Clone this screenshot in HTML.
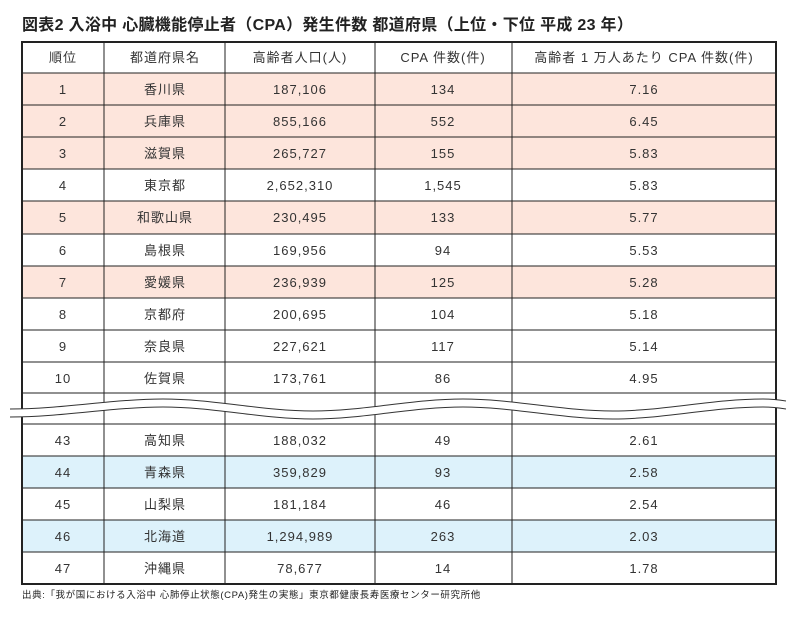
<!DOCTYPE html>
<html><head><meta charset="utf-8"><style>
body{margin:0;background:#fff;}
svg text{font-family:"Liberation Sans","Noto Sans CJK JP",sans-serif;fill:#333;}
</style></head><body>
<svg width="791" height="617" viewBox="0 0 791 617" xmlns="http://www.w3.org/2000/svg">
<text x="22" y="30" font-size="16" font-weight="bold" letter-spacing="0.3" style="fill:#222">図表2 入浴中 心臓機能停止者（CPA）発生件数 都道府県（上位・下位 平成 23 年）</text>
<g>
<rect x="22" y="73" width="754" height="32" fill="#fde5dc"/>
<rect x="22" y="105" width="754" height="32" fill="#fde5dc"/>
<rect x="22" y="137" width="754" height="32" fill="#fde5dc"/>
<rect x="22" y="201" width="754" height="33" fill="#fde5dc"/>
<rect x="22" y="266" width="754" height="32" fill="#fde5dc"/>
<rect x="22" y="456" width="754" height="32" fill="#ddf2fb"/>
<rect x="22" y="520" width="754" height="32" fill="#ddf2fb"/>
</g>
<g stroke="#222" stroke-width="1">
<line x1="22" y1="73" x2="776" y2="73"/>
<line x1="22" y1="105" x2="776" y2="105"/>
<line x1="22" y1="137" x2="776" y2="137"/>
<line x1="22" y1="169" x2="776" y2="169"/>
<line x1="22" y1="201" x2="776" y2="201"/>
<line x1="22" y1="234" x2="776" y2="234"/>
<line x1="22" y1="266" x2="776" y2="266"/>
<line x1="22" y1="298" x2="776" y2="298"/>
<line x1="22" y1="330" x2="776" y2="330"/>
<line x1="22" y1="362" x2="776" y2="362"/>
<line x1="22" y1="393" x2="776" y2="393"/>
<line x1="22" y1="424" x2="776" y2="424"/>
<line x1="22" y1="456" x2="776" y2="456"/>
<line x1="22" y1="488" x2="776" y2="488"/>
<line x1="22" y1="520" x2="776" y2="520"/>
<line x1="22" y1="552" x2="776" y2="552"/>
<line x1="104" y1="42" x2="104" y2="584"/>
<line x1="225" y1="42" x2="225" y2="584"/>
<line x1="375" y1="42" x2="375" y2="584"/>
<line x1="512" y1="42" x2="512" y2="584"/>
</g>
<rect x="22" y="42" width="754" height="542" fill="none" stroke="#222" stroke-width="2"/>
<path d="M10,409 C63,409 113,399 163,399 C213,399 263,411 313,411 C363,411 413,399 463,399 C513,399 563,411 613,411 C663,411 713,399 763,399 C773,399 780,400 786,401 L786,409 C780,408 773,407 763,407 C713,407 663,419 613,419 C563,419 513,407 463,407 C413,407 363,419 313,419 C263,419 213,407 163,407 C113,407 63,417 10,417 Z" fill="#fff"/>
<path d="M10,409 C63,409 113,399 163,399 C213,399 263,411 313,411 C363,411 413,399 463,399 C513,399 563,411 613,411 C663,411 713,399 763,399 C773,399 780,400 786,401" fill="none" stroke="#333" stroke-width="1"/>
<path d="M10,417 C63,417 113,407 163,407 C213,407 263,419 313,419 C363,419 413,407 463,407 C513,407 563,419 613,419 C663,419 713,407 763,407 C773,407 780,408 786,409" fill="none" stroke="#333" stroke-width="1"/>
<g font-size="13" text-anchor="middle" letter-spacing="1">
<text x="63" y="62">順位</text><text x="165" y="62">都道府県名</text><text x="300" y="62">高齢者人口(人)</text><text x="443" y="62">CPA 件数(件)</text><text x="644" y="62">高齢者 1 万人あたり CPA 件数(件)</text>
</g>
<g font-size="13" text-anchor="middle" letter-spacing="1">
<text x="63" y="94">1</text><text x="165" y="94">香川県</text><text x="300" y="94">187,106</text><text x="443" y="94">134</text><text x="644" y="94">7.16</text>
<text x="63" y="126">2</text><text x="165" y="126">兵庫県</text><text x="300" y="126">855,166</text><text x="443" y="126">552</text><text x="644" y="126">6.45</text>
<text x="63" y="158">3</text><text x="165" y="158">滋賀県</text><text x="300" y="158">265,727</text><text x="443" y="158">155</text><text x="644" y="158">5.83</text>
<text x="63" y="190">4</text><text x="165" y="190">東京都</text><text x="300" y="190">2,652,310</text><text x="443" y="190">1,545</text><text x="644" y="190">5.83</text>
<text x="63" y="222">5</text><text x="165" y="222">和歌山県</text><text x="300" y="222">230,495</text><text x="443" y="222">133</text><text x="644" y="222">5.77</text>
<text x="63" y="255">6</text><text x="165" y="255">島根県</text><text x="300" y="255">169,956</text><text x="443" y="255">94</text><text x="644" y="255">5.53</text>
<text x="63" y="287">7</text><text x="165" y="287">愛媛県</text><text x="300" y="287">236,939</text><text x="443" y="287">125</text><text x="644" y="287">5.28</text>
<text x="63" y="319">8</text><text x="165" y="319">京都府</text><text x="300" y="319">200,695</text><text x="443" y="319">104</text><text x="644" y="319">5.18</text>
<text x="63" y="351">9</text><text x="165" y="351">奈良県</text><text x="300" y="351">227,621</text><text x="443" y="351">117</text><text x="644" y="351">5.14</text>
<text x="63" y="383">10</text><text x="165" y="383">佐賀県</text><text x="300" y="383">173,761</text><text x="443" y="383">86</text><text x="644" y="383">4.95</text>
<text x="63" y="445">43</text><text x="165" y="445">高知県</text><text x="300" y="445">188,032</text><text x="443" y="445">49</text><text x="644" y="445">2.61</text>
<text x="63" y="477">44</text><text x="165" y="477">青森県</text><text x="300" y="477">359,829</text><text x="443" y="477">93</text><text x="644" y="477">2.58</text>
<text x="63" y="509">45</text><text x="165" y="509">山梨県</text><text x="300" y="509">181,184</text><text x="443" y="509">46</text><text x="644" y="509">2.54</text>
<text x="63" y="541">46</text><text x="165" y="541">北海道</text><text x="300" y="541">1,294,989</text><text x="443" y="541">263</text><text x="644" y="541">2.03</text>
<text x="63" y="573">47</text><text x="165" y="573">沖縄県</text><text x="300" y="573">78,677</text><text x="443" y="573">14</text><text x="644" y="573">1.78</text>
</g>
<text x="22" y="598" font-size="9.5" letter-spacing="0.6" style="fill:#222">出典:「我が国における入浴中 心肺停止状態(CPA)発生の実態」東京都健康長寿医療センター研究所他</text>
</svg>
</body></html>
